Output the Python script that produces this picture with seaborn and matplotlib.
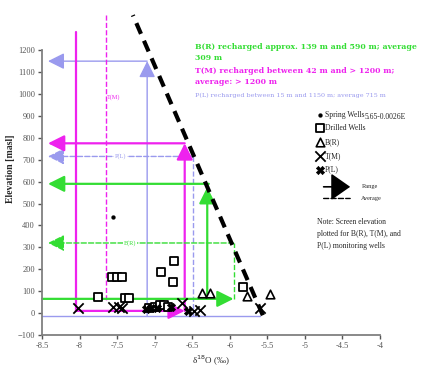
import numpy as np
import pandas as pd
import seaborn as sns
import matplotlib
matplotlib.use("Agg")
import matplotlib.pyplot as plt

# scatter data (delta 18O, elevation)
spring_d = [-7.55]
spring_e = [440]
drilled_d = [-7.75, -7.57, -7.50, -7.44, -7.40, -7.34, -6.91, -6.74, -6.75, -5.83,
             -7.08, -7.00, -6.93, -6.87, -6.82]
drilled_e = [72, 164, 164, 164, 70, 70, 187, 237, 142, 118,
             25, 30, 35, 35, 30]
br_d = [-6.37, -6.26, -5.77, -5.47]
br_e = [90, 90, 80, 88]
tm_d = [-8.02, -7.55, -7.48, -7.43, -6.63, -6.47, -6.40, -5.60]
tm_e = [25, 27, 27, 25, 45, 10, 12, 22]
pl_d = [-7.12, -7.05, -6.97, -6.78, -6.55]
pl_e = [18, 22, 25, 28, 8]

# isotope-elevation line end points
line_d = [-5.56, -7.29]
line_e = [-10, 1360]

# range / average arrows: (x0, y0, x1, y1, colour, style, head)
lav, mag, grn = "#9a9aee", "#ee22ee", "#33dd33"
arrows = [
    (-8.50, -15, -5.60, -15, lav, "-", False),
    (-7.10, -15, -7.10, 1150, lav, "-", True),
    (-7.10, 1150, -8.42, 1150, lav, "-", True),
    (-6.49, 715, -8.42, 715, lav, "--", True),
    (-6.49, -15, -6.49, 715, lav, "--", False),
    (-8.05, 1283, -8.05, 10, mag, "-", False),
    (-8.05, 10, -6.60, 10, mag, "-", True),
    (-6.60, 10, -6.60, 775, mag, "-", True),
    (-6.60, 775, -8.42, 775, mag, "-", True),
    (-7.65, 1360, -7.65, 60, mag, "--", False),
    (-6.28, 590, -8.42, 590, grn, "-", True),
    (-6.30, 65, -6.30, 575, grn, "-", True),
    (-8.50, 65, -5.95, 65, grn, "-", True),
    (-5.95, 320, -8.42, 320, grn, "--", True),
    (-5.95, 65, -5.95, 320, grn, "--", False),
]

sns.set_theme(style="white")
plt.rcParams["font.family"] = ["Liberation Serif", "DejaVu Sans"]

fig = plt.figure(figsize=(4.25, 3.7), dpi=100)
ax = fig.add_axes([42 / 425, 35 / 370, 338 / 425, 333 / 370])

for x0, y0, x1, y1, c, ls, head in arrows:
    lw = 1.0 if c == lav or ls == "--" else 1.6
    if head:
        ax.annotate("", xy=(x1, y1), xytext=(x0, y0),
                    arrowprops=dict(arrowstyle="-|>,head_length=0.9,head_width=0.45",
                                    mutation_scale=11, color=c, lw=lw, ls=ls,
                                    shrinkA=0, shrinkB=0), zorder=2)
    else:
        ax.plot([x0, x1], [y0, y1], color=c, lw=lw, ls=ls, zorder=2)

sns.lineplot(x=line_d, y=line_e, ax=ax, color="black", lw=3, sort=False,
             dashes=False, zorder=3)
ax.lines[-1].set_dashes((2.8, 1.8))

sns.scatterplot(x=spring_d, y=spring_e, ax=ax, marker="o", s=8, color="black",
                edgecolor="black", label="Spring Wells", zorder=4)
sns.scatterplot(x=drilled_d, y=drilled_e, ax=ax, marker="s", s=28, facecolor="white",
                edgecolor="black", linewidth=1.3, label="Drilled Wells", zorder=4)
sns.scatterplot(x=br_d, y=br_e, ax=ax, marker="^", s=38, facecolor="white",
                edgecolor="black", linewidth=1.2, label="B(R)", zorder=4)
sns.scatterplot(x=tm_d, y=tm_e, ax=ax, marker="x", s=55, color="black",
                linewidth=1.3, label="T(M)", zorder=4)
sns.scatterplot(x=pl_d, y=pl_e, ax=ax, marker="X", s=35, color="black",
                edgecolor="black", label="P(L)", zorder=4)

ax.set_xlim(-8.5, -4)
ax.set_ylim(-100, 1420)
ax.set_xticks(np.arange(-8.5, -3.99, 0.5))
ax.set_xticklabels(["-8.5", "-8", "-7.5", "-7", "-6.5", "-6", "-5.5", "-5", "-4.5", "-4"])
ax.set_yticks(np.arange(-100, 1201, 100))
ax.spines["top"].set_visible(False)
ax.spines["right"].set_visible(False)
ax.spines["left"].set_bounds(-100, 1200)
for s in ("left", "bottom"):
    ax.spines[s].set_color("#808080")
    ax.spines[s].set_linewidth(1.3)
ax.tick_params(axis="both", labelsize=6, colors="#555555", length=3, width=1,
               direction="out", left=True, bottom=True, pad=2)
ax.set_ylabel("Elevation [masl]", fontsize=7, fontweight="bold", labelpad=2)
ax.set_xlabel("δ$^{18}$O (‰)", fontsize=6.5, labelpad=3)

leg = ax.legend(loc="upper left", bbox_to_anchor=(0.80, 0.685), frameon=False,
                fontsize=5.5, handletextpad=0.1, handlelength=1.0,
                labelspacing=0.75, borderpad=0)
ax.text(0.955, 0.655, "5.65-0.0026E", transform=ax.transAxes, fontsize=5.5,
        va="center", ha="left")

# arrow legend
ax.annotate("", xy=(0.92, 0.445), xytext=(0.825, 0.445), xycoords="axes fraction",
            arrowprops=dict(arrowstyle="-|>,head_length=1.0,head_width=0.7",
                            mutation_scale=12, color="black", lw=1.2))
ax.annotate("", xy=(0.92, 0.41), xytext=(0.825, 0.41), xycoords="axes fraction",
            arrowprops=dict(arrowstyle="-", color="black", lw=1, ls="--"))
ax.text(0.945, 0.445, "Range", transform=ax.transAxes, fontsize=4.5, va="center")
ax.text(0.945, 0.41, "Average", transform=ax.transAxes, fontsize=4.5, va="center")
ax.text(0.815, 0.35, "Note: Screen elevation\nplotted for B(R), T(M), and\nP(L) monitoring wells",
        transform=ax.transAxes, fontsize=5.5, va="top", linespacing=1.6)

# group labels
ax.text(-7.55, 985, "T(M)", color=mag, fontsize=4.5, ha="center", va="center")
ax.text(-7.45, 715, "P(L)", color=lav, fontsize=4.5, ha="center", va="center",
        bbox=dict(fc="white", ec="none", pad=0.5))
ax.text(-7.33, 320, "B(R)", color=grn, fontsize=4.5, ha="center", va="center",
        bbox=dict(fc="white", ec="none", pad=0.5))

top_font = ["DejaVu Serif"]
fig.text(195 / 425, 1 - 47 / 370, "B(R) recharged approx. 139 m and 590 m; average",
         color=grn, fontsize=5.6, fontweight="bold", va="center", family=top_font)
fig.text(195 / 425, 1 - 58 / 370, "309 m", color=grn, fontsize=5.6,
         fontweight="bold", va="center", family=top_font)
fig.text(195 / 425, 1 - 71 / 370, "T(M) recharged between 42 m and > 1200 m;",
         color=mag, fontsize=5.6, fontweight="bold", va="center", family=top_font)
fig.text(195 / 425, 1 - 82 / 370, "average: > 1200 m", color=mag, fontsize=5.6,
         fontweight="bold", va="center", family=top_font)
fig.text(195 / 425, 1 - 95 / 370, "P(L) recharged between 15 m and 1150 m; average 715 m",
         color=lav, fontsize=4.6, va="center", family=top_font)

fig.savefig("out.png", dpi=100)
